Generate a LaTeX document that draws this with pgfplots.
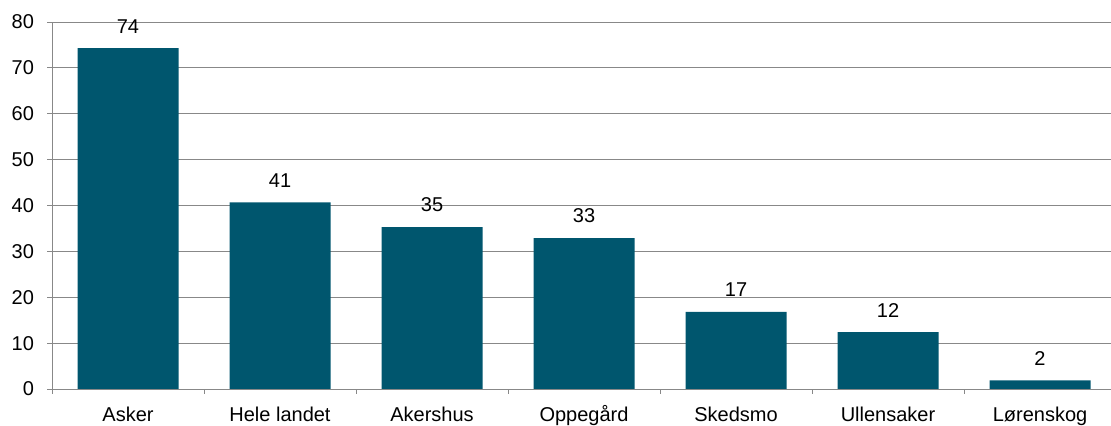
\documentclass[border=0pt]{standalone}
\usepackage{fontspec}
\setmainfont{Liberation Sans}
\usepackage{pgfplots}
\pgfplotsset{compat=1.18}
\definecolor{barcol}{RGB}{0,86,110}
\definecolor{gridcol}{RGB}{136,136,136}
\begin{document}
\fontsize{10pt}{12pt}\selectfont
\begin{tikzpicture}
\begin{axis}[
    name=ax,
    scale only axis,
    width=532pt, height=183.5pt,
    ybar, bar width=50.5pt,
    xmin=-0.5, xmax=6.5,
    ymin=0, ymax=80,
    ytick={0,10,...,80},
    xtick={0,...,6},
    xticklabels={Asker, Hele landet, Akershus, Oppegård, Skedsmo, Ullensaker, Lørenskog},
    minor xtick={-0.5,0.5,...,6.5},
    major x tick style={draw=none},
    minor x tick style={draw=gridcol, thin},
    y tick style={draw=gridcol, thin},
    tick align=outside,
    major tick length=2.5pt, minor tick length=2.5pt,
    axis x line*=bottom, axis y line*=left,
    axis line style={draw=gridcol, thin, -},
    ymajorgrids, grid style={gridcol, thin},
    tick label style={font=\fontsize{10pt}{12pt}\selectfont},
    /pgf/number format/assume math mode=true,
    yticklabel style={xshift=-3pt},
    xticklabel style={yshift=-2pt, text height=8pt, text depth=2.5pt},
    nodes near coords,
    every node near coord/.style={font=\fontsize{10pt}{12pt}\selectfont, color=black, yshift=4pt,
        /pgf/number format/fixed, /pgf/number format/precision=0},
]
\addplot[fill=barcol, draw=none] coordinates {
    (0,74.3) (1,40.7) (2,35.3) (3,32.9) (4,16.8) (5,12.4) (6,1.9)
};
\end{axis}
\pgfresetboundingbox
\path (-26pt,-18.5pt) rectangle (529.5pt,194.5pt);
\end{tikzpicture}
\end{document}
